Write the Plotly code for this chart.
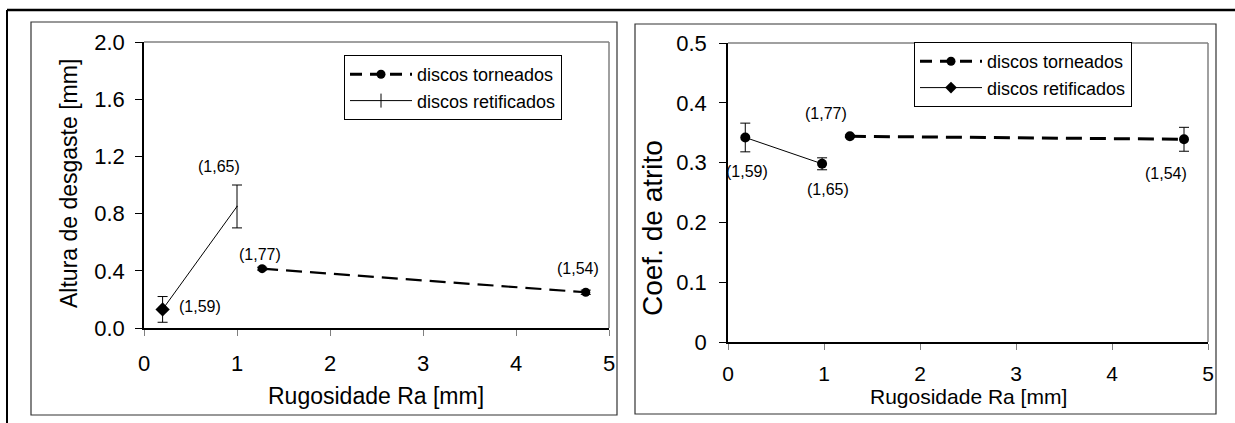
import plotly.graph_objects as go

# ---------------- data ----------------
# Left panel: wear height
torn_x_L = [1.27, 4.75]
torn_y_L = [0.415, 0.25]
torn_e_L = [0.01, 0.015]
ret_x_L = [0.2, 1.0]
ret_y_L = [0.13, 0.85]
ret_e_L = [0.09, 0.15]

# Right panel: friction coefficient
torn_x_R = [1.27, 4.75]
torn_y_R = [0.344, 0.339]
torn_e_R = [0.002, 0.02]
ret_x_R = [0.18, 0.98]
ret_y_R = [0.342, 0.298]
ret_e_R = [0.024, 0.01]

# point labels (hardness values)
lab_ret = ["(1,59)", "(1,65)"]
lab_torn = ["(1,77)", "(1,54)"]

x_ticks = [0, 1, 2, 3, 4, 5]
yL_ticks = [0.0, 0.4, 0.8, 1.2, 1.6, 2.0]
yL_text = ["0.0", "0.4", "0.8", "1.2", "1.6", "2.0"]
yR_ticks = [0, 0.1, 0.2, 0.3, 0.4, 0.5]
yR_text = ["0", "0.1", "0.2", "0.3", "0.4", "0.5"]

FONT = "Liberation Sans, Arial, sans-serif"
W, H = 1235, 423

def px_x(v):
    return v / W

def px_y(v):
    return 1 - v / H

fig = go.Figure()

dash = "16px,8px"
err = lambda arr: dict(type="data", array=arr, visible=True, color="black", thickness=1, width=5)

# Left traces
fig.add_trace(go.Scatter(x=torn_x_L, y=torn_y_L, mode="lines+markers", xaxis="x", yaxis="y",
                         line=dict(color="black", width=2.2, dash=dash),
                         marker=dict(symbol="circle", size=9, color="black", line=dict(width=0)),
                         error_y=err(torn_e_L), showlegend=False))
fig.add_trace(go.Scatter(x=ret_x_L, y=ret_y_L, mode="lines+markers", xaxis="x", yaxis="y",
                         line=dict(color="black", width=1),
                         marker=dict(symbol=["diamond", "line-ns-open"], size=[11, 1], color="black",
                                     opacity=1, line=dict(color="black", width=0)),
                         error_y=err(ret_e_L), showlegend=False))
# Right traces
fig.add_trace(go.Scatter(x=torn_x_R, y=torn_y_R, mode="lines+markers", xaxis="x2", yaxis="y2",
                         line=dict(color="black", width=3, dash=dash),
                         marker=dict(symbol="circle", size=10, color="black", line=dict(width=0)),
                         error_y=err(torn_e_R), showlegend=False))
fig.add_trace(go.Scatter(x=ret_x_R, y=ret_y_R, mode="lines+markers", xaxis="x2", yaxis="y2",
                         line=dict(color="black", width=1),
                         marker=dict(symbol="circle", size=10, color="black", line=dict(width=0)),
                         error_y=err(ret_e_R), showlegend=False))

# Legend-only entries
fig.add_trace(go.Scatter(x=[None], y=[None], mode="lines+markers", xaxis="x", yaxis="y",
                         name="discos torneados", legend="legend",
                         line=dict(color="black", width=3, dash="12px,8px"),
                         marker=dict(symbol="circle", size=9, color="black")))
fig.add_trace(go.Scatter(x=[None], y=[None], mode="lines+markers", xaxis="x", yaxis="y",
                         name="discos retificados", legend="legend",
                         line=dict(color="black", width=1),
                         marker=dict(symbol="line-ns-open", size=10, color="black",
                                     line=dict(color="black", width=1))))
fig.add_trace(go.Scatter(x=[None], y=[None], mode="lines+markers", xaxis="x2", yaxis="y2",
                         name="discos torneados", legend="legend2",
                         line=dict(color="black", width=3, dash="12px,8px"),
                         marker=dict(symbol="circle", size=9, color="black")))
fig.add_trace(go.Scatter(x=[None], y=[None], mode="lines+markers", xaxis="x2", yaxis="y2",
                         name="discos retificados", legend="legend2",
                         line=dict(color="black", width=1),
                         marker=dict(symbol="diamond", size=9, color="black")))

annotations = []
lab_font = dict(family=FONT, size=16, color="black")
# left labels
offs_ret_L = [(37, 3), (-18, 40)]
offs_torn_L = [(-2, 14), (-8, 24)]
for i in range(2):
    annotations.append(dict(x=ret_x_L[i], y=ret_y_L[i], xref="x", yref="y", text=lab_ret[i],
                            showarrow=False, xshift=offs_ret_L[i][0], yshift=offs_ret_L[i][1], font=lab_font))
    annotations.append(dict(x=torn_x_L[i], y=torn_y_L[i], xref="x", yref="y", text=lab_torn[i],
                            showarrow=False, xshift=offs_torn_L[i][0], yshift=offs_torn_L[i][1], font=lab_font))
offs_ret_R = [(2, -34), (6, -26)]
offs_torn_R = [(-24, 23), (-18, -34)]
for i in range(2):
    annotations.append(dict(x=ret_x_R[i], y=ret_y_R[i], xref="x2", yref="y2", text=lab_ret[i],
                            showarrow=False, xshift=offs_ret_R[i][0], yshift=offs_ret_R[i][1], font=lab_font))
    annotations.append(dict(x=torn_x_R[i], y=torn_y_R[i], xref="x2", yref="y2", text=lab_torn[i],
                            showarrow=False, xshift=offs_torn_R[i][0], yshift=offs_torn_R[i][1], font=lab_font))

title_font = dict(family=FONT, size=23, color="black")
annotations += [
    dict(x=px_x(376), y=px_y(396), xref="paper", yref="paper", text="Rugosidade Ra [mm]",
         showarrow=False, font=title_font, xanchor="center", yanchor="middle"),
    dict(x=px_x(69), y=px_y(184), xref="paper", yref="paper", text="Altura de desgaste [mm]",
         showarrow=False, font=title_font, textangle=-90, xanchor="center", yanchor="middle"),
    dict(x=px_x(968), y=px_y(396), xref="paper", yref="paper", text="Rugosidade Ra [mm]",
         showarrow=False, font=dict(family=FONT, size=21, color="black"), xanchor="center", yanchor="middle"),
    dict(x=px_x(652), y=px_y(228), xref="paper", yref="paper", text="Coef. de atrito",
         showarrow=False, font=dict(family=FONT, size=28, color="black"), textangle=-90,
         xanchor="center", yanchor="middle"),
]

shapes = []
# plot-area gray borders (top & right)
for xr, yr in (("x", "y"), ("x2", "y2")):
    shapes.append(dict(type="line", xref=f"{xr} domain", yref=f"{yr} domain", x0=0, x1=1, y0=1, y1=1,
                       line=dict(color="#808080", width=1.5)))
    shapes.append(dict(type="line", xref=f"{xr} domain", yref=f"{yr} domain", x0=1, x1=1, y0=0, y1=1,
                       line=dict(color="#808080", width=1.5)))
# panel boxes
shapes.append(dict(type="rect", xref="paper", yref="paper", x0=px_x(31), x1=px_x(617), y0=px_y(415), y1=px_y(22),
                   line=dict(color="#333333", width=1.2)))
shapes.append(dict(type="rect", xref="paper", yref="paper", x0=px_x(635), x1=px_x(1216), y0=px_y(414), y1=px_y(24),
                   line=dict(color="#333333", width=1.2)))
# outer frame (top & left)
shapes.append(dict(type="line", xref="paper", yref="paper", x0=px_x(7), x1=1, y0=px_y(10), y1=px_y(10),
                   line=dict(color="black", width=2.5)))
shapes.append(dict(type="line", xref="paper", yref="paper", x0=px_x(7), x1=px_x(7), y0=0, y1=px_y(10),
                   line=dict(color="black", width=2)))

tick_font = dict(family=FONT, size=22, color="black")
common_x = dict(range=[0, 5], tickvals=x_ticks, ticks="outside", ticklen=6, tickcolor="#808080",
                showline=True, linecolor="black", linewidth=1.5, showgrid=False, zeroline=False,
                fixedrange=True, automargin=False)
common_y = dict(ticks="outside", ticklen=7, tickcolor="black", showline=True, linecolor="black",
                linewidth=1.5, showgrid=False, zeroline=False, tickfont=tick_font, fixedrange=True,
                automargin=False)

leg_common = dict(bgcolor="white", bordercolor="black", borderwidth=1,
                  font=dict(family=FONT, size=18, color="black"),
                  xanchor="left", yanchor="top", tracegroupgap=0, itemwidth=62)

fig.update_layout(
    template="none",
    width=W, height=H,
    margin=dict(l=0, r=0, t=0, b=0),
    paper_bgcolor="white", plot_bgcolor="white",
    font=dict(family=FONT, color="black"),
    xaxis=dict(domain=[px_x(144), px_x(609)], anchor="y", ticklabelstandoff=9, tickfont=tick_font, **common_x),
    yaxis=dict(domain=[px_y(328), px_y(42)], anchor="x", range=[0, 2], tickvals=yL_ticks,
               ticktext=yL_text, ticklabelstandoff=6, **common_y),
    xaxis2=dict(domain=[px_x(728), px_x(1208)], anchor="y2", ticklabelstandoff=6,
                tickfont=dict(family=FONT, size=21, color="black"), **common_x),
    yaxis2=dict(domain=[px_y(342), px_y(43)], anchor="x2", range=[0, 0.5], tickvals=yR_ticks,
                ticktext=yR_text, ticklabelstandoff=8, **common_y),
    legend=dict(x=px_x(344), y=px_y(55), **leg_common),
    legend2=dict(x=px_x(914), y=px_y(42), **leg_common),
    annotations=annotations,
    shapes=shapes,
)

fig.write_html("out.html", config={"displayModeBar": False},
               post_script="document.body.style.margin='0';document.body.style.overflow='hidden';")
